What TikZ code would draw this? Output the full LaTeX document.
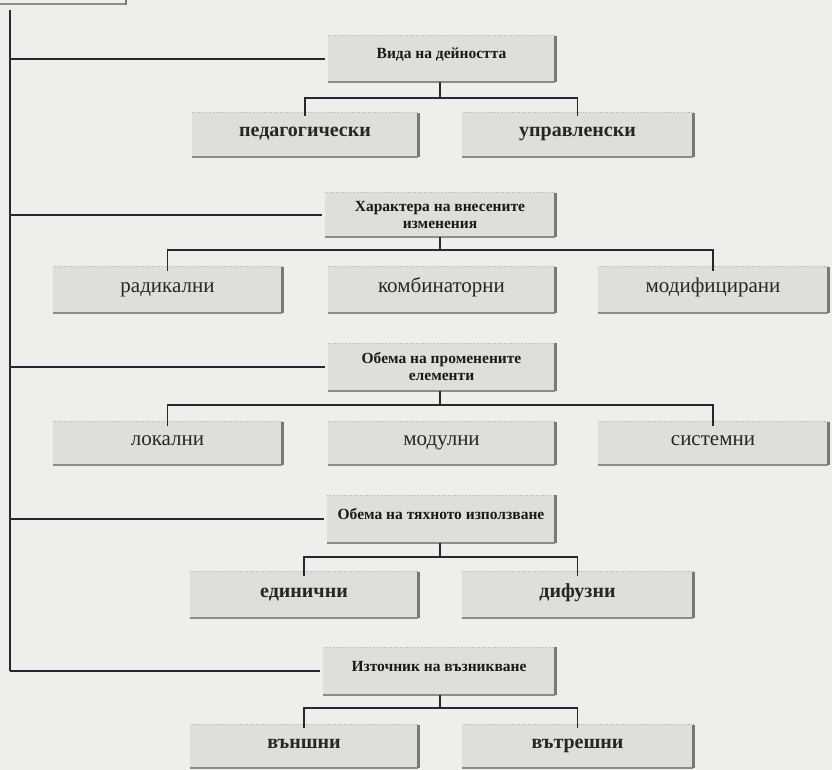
\documentclass[tikz,border=0pt]{standalone}
\usepackage{fontspec}
\setmainfont{Liberation Serif}
\definecolor{bgcol}{RGB}{238,238,234}
\definecolor{boxfill}{RGB}{222,222,218}
\definecolor{linecol}{RGB}{40,38,48}
\definecolor{edgetop}{RGB}{185,185,180}
\definecolor{edgebot}{RGB}{140,140,136}
\definecolor{edgeright}{RGB}{120,120,118}
\newcommand{\catfont}{\bfseries\fontsize{15.5}{17}\selectfont}
\newcommand{\leaffont}{\fontsize{21}{24}\selectfont}
\newcommand{\leafboldfont}{\bfseries\fontsize{20}{24}\selectfont}
\tikzset{
  catbox/.style={rectangle, fill=boxfill, font=\catfont, align=center, inner sep=0pt, text=black!90},
  onecat/.style={text height=6pt, text depth=6pt},
  leafbox/.style={rectangle, fill=boxfill, font=\leaffont, inner sep=0pt, text=black!85, text height=8pt, text depth=4pt},
  leafboldbox/.style={leafbox, font=\leafboldfont},
  conn/.style={draw=linecol, line width=1.8pt},
  topedge/.style={draw=edgetop, line width=1.2pt, densely dotted},
  botedge/.style={draw=edgebot, line width=1.6pt},
  rightedge/.style={draw=edgeright, line width=2.6pt},
}
\begin{document}
\begin{tikzpicture}[x=1pt,y=-1pt]
\fill[bgcol] (0,0) rectangle (832,770);
\useasboundingbox (0,0) rectangle (832,770);
% cut-off box at top
\draw[botedge] (0,4) -- (125,4);
\draw[rightedge] (126,-2) -- (126,5);

% category boxes
\node[catbox, onecat, minimum width=227, minimum height=46] (A) at (441.5,59) {Вида на дейността};
\node[catbox, minimum width=230, minimum height=44] (B) at (440,215) {Характера на внесените\\изменения};
\node[catbox, minimum width=227, minimum height=47] (C) at (441.5,367) {Обема на променените\\елементи};
\node[catbox, onecat, minimum width=228, minimum height=47] (D) at (441,519) {Обема на тяхното използване};
\node[catbox, onecat, minimum width=232, minimum height=47] (E) at (439,671) {Източник на възникване};

% leaves
\node[leafboldbox, minimum width=226, minimum height=44] (A1) at (305,135) {педагогически};
\node[leafboldbox, minimum width=231, minimum height=44] (A2) at (577.5,135) {управленски};
\node[leafbox, minimum width=229, minimum height=46] (B1) at (167.5,290) {радикални};
\node[leafbox, minimum width=227, minimum height=46] (B2) at (441.5,290) {комбинаторни};
\node[leafbox, minimum width=230, minimum height=46] (B3) at (713,290) {модифицирани};
\node[leafbox, minimum width=229, minimum height=43] (C1) at (167.5,443.5) {локални};
\node[leafbox, minimum width=227, minimum height=43] (C2) at (441.5,443.5) {модулни};
\node[leafbox, minimum width=230, minimum height=43] (C3) at (713,443.5) {системни};
\node[leafboldbox, minimum width=228, minimum height=46] (D1) at (304,595) {единични};
\node[leafboldbox, minimum width=231, minimum height=46] (D2) at (577.5,595) {дифузни};
\node[leafboldbox, minimum width=228, minimum height=43] (E1) at (304,746.5) {външни};
\node[leafboldbox, minimum width=231, minimum height=43] (E2) at (577.5,746.5) {вътрешни};

\foreach \n in {A,B,C,D,E,A1,A2,B1,B2,B3,C1,C2,C3,D1,D2,E1,E2}{
  \draw[topedge] (\n.north west) -- (\n.north east);
  \draw[botedge] (\n.south west) -- (\n.south east);
  \draw[rightedge] (\n.north east) -- (\n.south east);
}

% spine
\coordinate (spinetop) at (10,10);
\coordinate (spinebot) at (10,671);
\draw[conn] (spinetop) -- (spinebot);
\foreach \n in {A,B,C,D,E}{
  \draw[conn] (\n.west -| spinetop) -- ([xshift=-3pt]\n.west);
}

% tree connectors
\coordinate (ja) at (440,98);
\coordinate (jb) at (440,250);
\coordinate (jc) at (440,405);
\coordinate (jd) at (440,557);
\coordinate (je) at (440,708);
\draw[conn] (A.south -| ja) -- (ja);
\draw[conn] ([yshift=-3pt]A1.north) |- (ja) -| ([yshift=-3pt]A2.north);
\draw[conn] (B.south -| jb) -- (jb);
\draw[conn] ([yshift=-4pt]B1.north) |- (jb) -| ([yshift=-4pt]B3.north);
\draw[conn] (C.south -| jc) -- (jc);
\draw[conn] ([yshift=-4pt]C1.north) |- (jc) -| ([yshift=-4pt]C3.north);
\draw[conn] (D.south -| jd) -- (jd);
\draw[conn] ([yshift=-4pt]D1.north) |- (jd) -| ([yshift=-4pt]D2.north);
\draw[conn] (E.south -| je) -- (je);
\draw[conn] ([yshift=-3pt]E1.north) |- (je) -| ([yshift=-3pt]E2.north);
\end{tikzpicture}
\end{document}
